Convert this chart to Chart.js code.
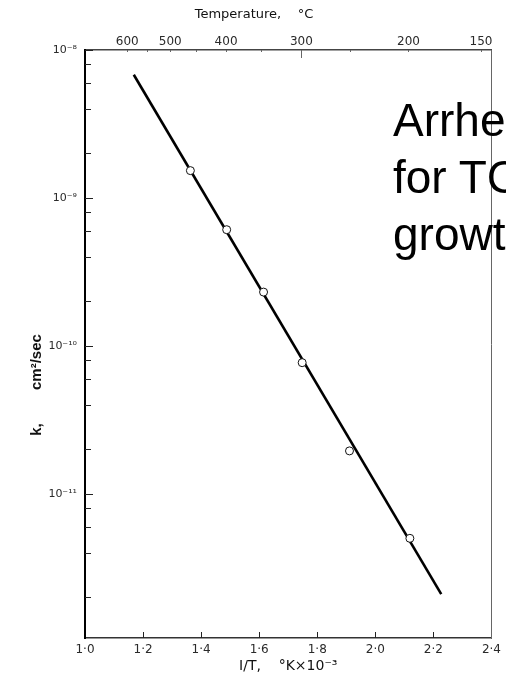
<!DOCTYPE html>
<html><head><meta charset="utf-8">
<script src="https://cdn.jsdelivr.net/npm/chart.js@4.4.1/dist/chart.umd.min.js"></script>
<style>
html,body{margin:0;padding:0;background:#fff;overflow:hidden;width:506px;height:679px;}
#wrap{position:relative;width:506px;height:679px;}
#c{position:absolute;left:0;top:0;}
#note{position:absolute;left:393px;top:92px;width:113px;overflow:hidden;white-space:nowrap;font-family:"Liberation Sans",Arial,sans-serif;font-size:46px;line-height:57px;color:#000;}
</style></head>
<body><div id="wrap"><canvas id="c" width="506" height="679"></canvas>
<div id="note">Arrhe<br>for TC<br>growt</div></div>
<script>
// ---- data ----
const invT = [1.363, 1.488, 1.615, 1.748, 1.911, 2.119];          // 1/T, °K×10^-3
const kValues = [1.53e-9, 6.1e-10, 2.31e-10, 7.7e-11, 1.95e-11, 5.0e-12]; // cm²/sec
const fitInvT = [1.168, 2.227];
const fitK = [6.8e-9, 2.1e-12];

const xTickValues = [1.0, 1.2, 1.4, 1.6, 1.8, 2.0, 2.2, 2.4];
const xTickLabels = ['1·0', '1·2', '1·4', '1·6', '1·8', '2·0', '2·2', '2·4'];
const yMajorTicks = [1e-8, 1e-9, 1e-10, 1e-11];
const yMajorLabels = ['10⁻⁸', '10⁻⁹', '10⁻¹⁰', '10⁻¹¹'];
const yMinorTicks = [8e-9, 6e-9, 4e-9, 2e-9, 8e-10, 6e-10, 4e-10, 2e-10,
                     8e-11, 6e-11, 4e-11, 2e-11, 8e-12, 6e-12, 4e-12, 2e-12];
const tempTicks = [600, 550, 500, 450, 400, 350, 300, 250, 200, 150];   // °C
const tempLabels = [600, 500, 400, 300, 200, 150];

const xTitle = 'I/T,    °K×10⁻³';
const yTitle = 'k,        cm²/sec';
const topTitle = 'Temperature,    °C';

const tickFont = {family: '"DejaVu Sans", sans-serif', size: 12};
const tickColor = '#2a2a2a';

const extras = {
  id: 'extras',
  afterDraw(chart) {
    const {ctx, chartArea: a, scales} = chart;
    ctx.save();
    ctx.strokeStyle = '#222';
    ctx.lineWidth = 1;
    const y = scales.y;
    y.ticks.forEach(t => {
      const p = Math.round(y.getPixelForValue(t.value)) + 0.5;
      const len = yMajorTicks.includes(t.value) ? 8 : 6;
      ctx.beginPath(); ctx.moveTo(a.left, p); ctx.lineTo(a.left + len, p); ctx.stroke();
    });
    const x = scales.x;
    x.ticks.forEach(t => {
      if (t.value <= 1.0 || t.value >= 2.4) return;
      const p = Math.round(x.getPixelForValue(t.value)) + 0.5;
      ctx.beginPath(); ctx.moveTo(p, a.bottom); ctx.lineTo(p, a.bottom - 6); ctx.stroke();
    });
    const x2 = scales.x2;
    ctx.strokeStyle = '#666';
    x2.ticks.forEach((t, i) => {
      const p = Math.round(x2.getPixelForValue(t.value)) + 0.5;
      const len = tempTicks[i] === 300 ? 8 : 2;
      ctx.beginPath(); ctx.moveTo(p, a.top); ctx.lineTo(p, a.top + len); ctx.stroke();
    });
    ctx.fillStyle = '#111';
    ctx.textAlign = 'center';
    ctx.textBaseline = 'middle';
    ctx.font = '13px "DejaVu Sans", sans-serif';
    ctx.fillText(topTitle, 254, 15);
    ctx.translate(37, 385);
    ctx.rotate(-Math.PI / 2);
    ctx.font = 'bold 15px "Liberation Sans", Arial, sans-serif';
    ctx.fillText(yTitle, 0, 0);
    ctx.restore();
  }
};

new Chart(document.getElementById('c'), {
  type: 'scatter',
  data: {
    datasets: [
      {
        label: 'measured',
        data: invT.map((v, i) => ({x: v, y: kValues[i]})),
        pointRadius: 4,
        pointBackgroundColor: '#fff',
        pointBorderColor: '#111',
        pointBorderWidth: 1,
        showLine: false,
        order: 0
      },
      {
        label: 'fit',
        data: fitInvT.map((v, i) => ({x: v, y: fitK[i]})),
        showLine: true,
        borderColor: '#000',
        borderWidth: 2.6,
        pointRadius: 0,
        order: 1
      }
    ]
  },
  options: {
    responsive: false,
    animation: false,
    devicePixelRatio: 1,
    layout: {padding: 0},
    plugins: {legend: {display: false}, tooltip: {enabled: false}},
    scales: {
      x: {
        type: 'linear', position: 'bottom', min: 1.0, max: 2.4,
        afterBuildTicks: s => { s.ticks = xTickValues.map(v => ({value: v})); },
        afterFit: s => { s.height = 41; },
        grid: {display: false, drawTicks: false},
        border: {display: true, color: '#333', width: 1.5},
        ticks: {autoSkip: false, maxRotation: 0, padding: 5, font: tickFont, color: tickColor,
                callback: (v, i) => xTickLabels[i]},
        title: {display: true, text: xTitle, color: '#111',
                font: {family: '"DejaVu Sans", sans-serif', size: 14}, padding: {top: 0, bottom: 4}}
      },
      x2: {
        type: 'linear', axis: 'x', position: 'top', min: 1.0, max: 2.4,
        afterBuildTicks: s => { s.ticks = tempTicks.map(T => ({value: 1000 / (T + 273)})); },
        afterFit: s => { s.height = 50; },
        grid: {display: false, drawTicks: false},
        border: {display: true, color: '#444', width: 1.5},
        ticks: {autoSkip: false, maxRotation: 0, padding: 1, font: tickFont, color: tickColor,
                callback: (v, i) => tempLabels.includes(tempTicks[i]) ? String(tempTicks[i]) : ''}
      },
      y: {
        type: 'logarithmic', position: 'left', min: 1.06e-12, max: 1e-8,
        afterBuildTicks: s => {
          s.ticks = yMajorTicks.concat(yMinorTicks).sort((a, b) => b - a).map(v => ({value: v}));
        },
        afterFit: s => { s.width = 85; },
        grid: {display: false, drawTicks: false},
        border: {display: true, color: '#000', width: 2},
        ticks: {autoSkip: false, padding: 8, font: {family: '"DejaVu Sans", sans-serif', size: 11}, color: tickColor,
                callback: v => { const i = yMajorTicks.indexOf(v); return i >= 0 ? yMajorLabels[i] : ''; }}
      },
      y2: {
        type: 'linear', axis: 'y', position: 'right', min: 0, max: 1,
        afterFit: s => { s.width = 11; },
        grid: {display: false, drawTicks: false},
        border: {display: true, color: '#666', width: 1, dash: [4, 2]},
        ticks: {display: false}
      }
    }
  },
  plugins: [extras]
});
</script>
</body></html>
